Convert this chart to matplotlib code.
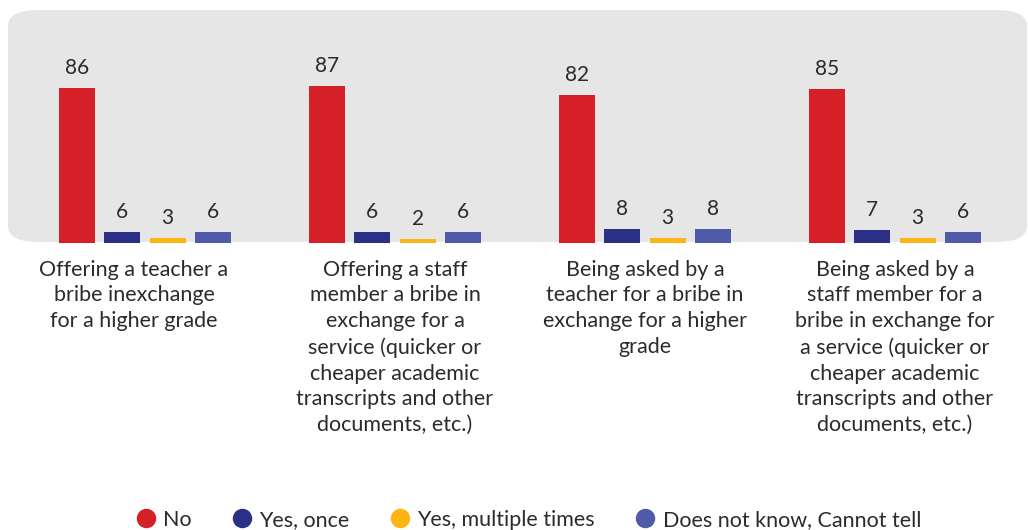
import matplotlib
matplotlib.use('Agg')
import matplotlib.pyplot as plt
import matplotlib.transforms as mtransforms
from matplotlib.patches import FancyBboxPatch
from matplotlib.lines import Line2D
import numpy as np

plt.rcParams['font.family'] = ['Lato', 'DejaVu Sans']

categories = [
    "Offering a teacher a\nbribe inexchange\nfor a higher grade",
    "Offering a staff\nmember a bribe in\nexchange for a\nservice (quicker or\ncheaper academic\ntranscripts and other\ndocuments, etc.)",
    "Being asked by a\nteacher for a bribe in\nexchange for a higher\ngrade",
    "Being asked by a\nstaff member for a\nbribe in exchange for\na service (quicker or\ncheaper academic\ntranscripts and other\ndocuments, etc.)",
]
series_names = ["No", "Yes, once", "Yes, multiple times", "Does not know, Cannot tell"]
no_vals = [86, 87, 82, 85]
once_vals = [6, 6, 8, 7]
multi_vals = [3, 2, 3, 3]
dk_vals = [6, 6, 8, 6]
colors = ['#D62028', '#2B3087', '#FDB515', '#4F5AA8']

W, H = 1028, 530
fig = plt.figure(figsize=(W / 100, H / 100), dpi=100)

# grey rounded background
bg = FancyBboxPatch((8 / W, (H - 242) / H), (1027 - 8) / W, (242 - 10) / H,
                    boxstyle="round,pad=0,rounding_size=0.03",
                    transform=fig.transFigure, facecolor='#E6E6E6',
                    edgecolor='none', zorder=0)
fig.patches.append(bg)

ax_bottom = (H - 243) / H
ax_top = (H - 10) / H
ax = fig.add_axes([0, ax_bottom, 1, ax_top - ax_bottom])
ax.set_zorder(2)
ax.patch.set_alpha(0)

x = np.arange(len(categories))
width = 0.144
offset = 0.181
all_vals = [no_vals, once_vals, multi_vals, dk_vals]
for i, vals in enumerate(all_vals):
    pos = x + (i - 1.5) * offset
    bars = ax.bar(pos, vals, width, color=colors[i], zorder=3)
    for b, v in zip(bars, vals):
        ax.text(b.get_x() + b.get_width() / 2, v + 5.5, str(v),
                ha='center', va='bottom', fontsize=15, color='#2b2b2b')

ax.set_xlim(-0.58, 3.532)
ax.set_ylim(0, 128.9)
ax.set_yticks([])
ax.set_xticks(x)
ax.set_xticklabels(categories, fontsize=15.5, color='#2b2b2b', linespacing=1.36)
ax.tick_params(axis='x', length=0, pad=12)
for s in ax.spines.values():
    s.set_visible(False)

# first label sits a bit left of its group in the original
lbl = ax.get_xticklabels()[0]
lbl.set_transform(lbl.get_transform() +
                  mtransforms.ScaledTranslation(-0.11, 0, fig.dpi_scale_trans))

handles = [Line2D([0], [0], marker='o', color='none', markerfacecolor=c,
                  markeredgecolor=c, markersize=13) for c in colors]
fig.legend(handles, series_names, loc='center', bbox_to_anchor=(0.513, (H - 520) / H),
           ncol=4, frameon=False, fontsize=15.5, handletextpad=0.25,
           columnspacing=1.8, handlelength=1.1, labelcolor='#2b2b2b')

plt.savefig('out.png', dpi=100)
